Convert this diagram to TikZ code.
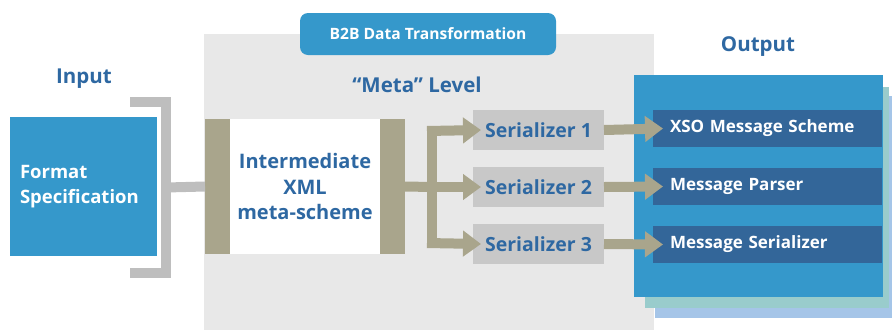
\documentclass[tikz,border=0pt]{standalone}
\usepackage{fontspec}
\setmainfont{Open Sans}
\usetikzlibrary{arrows.meta}
\definecolor{mblue}{HTML}{3598CB}
\definecolor{dblue}{HTML}{336699}
\definecolor{tblue}{HTML}{2E68A2}
\definecolor{bggray}{HTML}{E8E8E8}
\definecolor{brgray}{HTML}{BEBEBE}
\definecolor{beige}{HTML}{A9A58C}
\definecolor{sgray}{HTML}{C8C8C8}
\definecolor{teal}{HTML}{99CCCC}
\definecolor{lblue}{HTML}{A5C5E8}
\tikzset{
  box/.style={rectangle, inner sep=0pt, outer sep=0pt, anchor=north west},
  lbl/.style={font=\bfseries\fontsize{20.5}{24}\selectfont, text=tblue, inner sep=0pt},
  serbox/.style={box, fill=sgray, minimum width=131pt, minimum height=40pt,
     font=\bfseries\fontsize{19.5}{24}\selectfont, text=tblue},
  outbox/.style={box, fill=dblue, minimum width=212pt, minimum height=37pt,
     font=\bfseries\fontsize{17}{20}\selectfont, text=white, align=left, text width=195pt, inner xsep=17pt},
  bline/.style={draw=beige, line width=10pt},
  arr/.style={draw=beige, line width=10pt, -{Triangle[length=18pt,width=25pt]}},
}
\begin{document}
\begin{tikzpicture}[x=1pt,y=-1pt]
\useasboundingbox (0,0) rectangle (892,330);
% background gray panel
\node[box, fill=bggray, minimum width=450pt, minimum height=296pt] (bg) at (204,34) {};
\node[box, fill=mblue, rounded corners=8pt, minimum width=256pt, minimum height=42pt,
  text=white, font=\bfseries\fontsize{15.6}{20}\selectfont] (pill) at (300,13) {B2B Data Transformation};
\node[lbl] (meta) at (417,85) {“Meta” Level};
\node[lbl] (inlbl) at (84,79) {Input};
\node[lbl] (outlbl) at (758,47) {Output};
% input box
\node[box, fill=mblue, minimum width=137pt, minimum height=139pt, text=white,
  font=\bfseries\fontsize{18.5}{25}\selectfont, align=left, text width=127pt, inner xsep=10pt] (fmt) at (10,117) {Format\\Specification};
% bracket
\coordinate (bt) at (130,101.5);
\coordinate (bb) at (130,273);
\coordinate (bm) at (166,187.5);
\draw[draw=brgray, line width=10pt] (bt) -| (166,273) -- (bb);
% intermediate
\node[box, fill=beige, minimum width=25pt, minimum height=135pt] (lbar) at (205,119) {};
\node[box, fill=white, minimum width=150pt, minimum height=135pt, text=tblue,
  font=\bfseries\fontsize{20}{25.5}\selectfont, align=center] (inter) at (230,119) {Intermediate\\XML\\meta-scheme};
\node[box, fill=beige, minimum width=25pt, minimum height=135pt] (rbar) at (380,119) {};
\draw[draw=brgray, line width=10pt] (bm) -- (lbar.west);
% serializers
\node[serbox] (s1) at (473,110) {Serializer 1};
\node[serbox] (s2) at (473,167) {Serializer 2};
\node[serbox] (s3) at (473,224) {Serializer 3};
\coordinate (jn) at (432,187);
\coordinate (jt) at (432,126);
\coordinate (jb) at (432,248);
\draw[bline] (rbar.east) -- (jn);
\draw[bline] (jt) -- (jb);
\draw[arr] (427,131) -- ([xshift=8pt]s1.west);
\draw[arr] (jn) -- ([xshift=8pt]s2.west);
\draw[arr] (427,243) -- ([xshift=8pt]s3.west);
% output stack
\node[box, fill=lblue, minimum width=237pt, minimum height=222pt] (back) at (655,96) {};
\node[box, fill=teal, minimum width=244pt, minimum height=221pt] (mid) at (645,87) {};
\node[box, fill=mblue, minimum width=249pt, minimum height=222pt] (front) at (634,75) {};
\node[outbox] (o1) at (653,110) {XSO Message Scheme};
\node[outbox] (o2) at (653,168) {Message Parser};
\node[outbox] (o3) at (653,226) {Message Serializer};
\draw[arr] (s1.east) -- ([xshift=10pt]o1.west);
\draw[arr] (s2.east) -- ([xshift=10pt]o2.west);
\draw[arr] (s3.east) -- ([xshift=10pt]o3.west);
\end{tikzpicture}
\end{document}
